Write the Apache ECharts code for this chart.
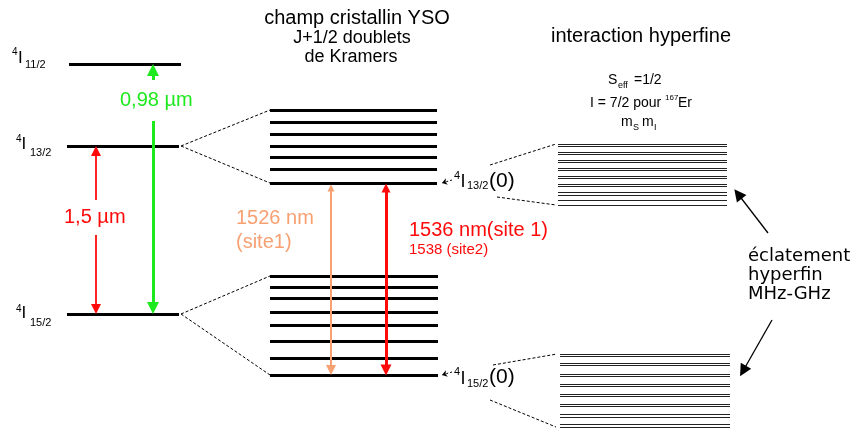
<!DOCTYPE html>
<html><head><meta charset="utf-8">
<script src="https://cdn.jsdelivr.net/npm/echarts@6/dist/echarts.min.js"></script>
<style>html,body{margin:0;padding:0;background:#fff}#c{width:856px;height:435px}</style>
</head><body><div id="c"></div>
<script>
// ---- data (vertical positions on the schematic energy scale, top = high energy) ----
const multipletJ = ['11/2', '13/2', '15/2'];
const multipletLevels = [64, 146, 314];
const starkUpper = [110, 122, 134, 146, 157, 169, 183];          // 4I13/2 Kramers doublets
const starkLower = [276, 287, 298, 312, 325, 341, 358, 375];     // 4I15/2 Kramers doublets
const hyperfineUpper = [144, 146, 152, 154, 160, 162, 168, 170, 176, 178, 184, 186, 192, 195, 200, 205];
const hyperfineLower = [354, 356, 363, 365, 374, 376, 384, 386, 394, 396, 404, 406, 414, 417, 424, 427];
const transitionLabels = ['0,98 µm', '1,5 µm', '1526 nm', '(site1)', '1536 nm(site 1)', '1538 (site2)'];

const SANS = '"Liberation Sans", Arial, sans-serif';
const DJV = '"DejaVu Sans", sans-serif';

function hseg(x1, x2, y) { return { coords: [[x1, y], [x2, y]] }; }
function seg(a, b) { return { coords: [a, b] }; }
function linesSeries(data, color, width, extra) {
  return Object.assign({
    type: 'lines', coordinateSystem: 'cartesian2d', polyline: false, silent: true,
    symbol: ['none', 'none'],
    lineStyle: { color: color, width: width, opacity: 1, type: 'solid' },
    data: data
  }, extra || {});
}
function arrowSeries(data, color, width, size, both) {
  return linesSeries(data, color, width, {
    symbol: both ? ['triangle', 'triangle'] : ['none', 'triangle'],
    symbolSize: size,
    itemStyle: { color: color }
  });
}

const series = [];
// left multiplets
series.push(linesSeries([
  hseg(69, 181, multipletLevels[0]),
  hseg(67, 179, multipletLevels[1]),
  hseg(67, 179, multipletLevels[2])
], '#000', 3));
// Stark levels
series.push(linesSeries(starkUpper.map(y => hseg(270, 437, y)).concat(starkLower.map(y => hseg(270, 438, y))), '#000', 3));
// hyperfine levels
series.push(linesSeries(hyperfineUpper.map(y => hseg(558, 727, y)).concat(hyperfineLower.map(y => hseg(560, 730, y))), '#222', 1.2));
// dashed connectors
series.push(linesSeries([
  seg([181, multipletLevels[1]], [270, starkUpper[0]]),
  seg([181, multipletLevels[1]], [270, starkUpper[starkUpper.length - 1]]),
  seg([181, multipletLevels[2]], [270, starkLower[0]]),
  seg([181, multipletLevels[2]], [270, starkLower[starkLower.length - 1]]),
  seg([490, 165], [556, hyperfineUpper[0]]),
  seg([497, 197], [556, hyperfineUpper[hyperfineUpper.length - 1]]),
  seg([493, 365], [557, hyperfineLower[0]]),
  seg([490, 400], [556, hyperfineLower[hyperfineLower.length - 1]])
], '#000', 1, { lineStyle: { color: '#000', width: 1, type: [3, 2], opacity: 1 } }));
// small dashed pointers to the lowest Stark level of each multiplet
series.push(linesSeries([
  seg([452, starkUpper[starkUpper.length - 1] - 3], [442, starkUpper[starkUpper.length - 1]]),
  seg([452, starkLower[starkLower.length - 1] - 3], [442, starkLower[starkLower.length - 1]])
], '#000', 1, { lineStyle: { color: '#000', width: 1, type: [2, 2], opacity: 1 }, symbol: ['none', 'arrow'], symbolSize: 5, itemStyle: { color: '#000' } }));

// transition arrows (tip at level; symbol centred at endpoint so inset by half its height)
const GREEN = '#1ee81e', RED = '#ff0a0a', SALMON = '#f7a072';
series.push(arrowSeries([
  seg([153, 80], [153, multipletLevels[0] + 6]),
  seg([153, 121], [153, multipletLevels[2] - 6])
], GREEN, 3, [9, 12]));
series.push(arrowSeries([
  seg([96, 200], [96, multipletLevels[1] + 5]),
  seg([96, 235], [96, multipletLevels[2] - 5])
], RED, 1.8, [7, 10]));
series.push(arrowSeries([
  seg([331, starkUpper[starkUpper.length - 1] + 5], [331, starkLower[starkLower.length - 1] - 5])
], SALMON, 2, [7, 10], true));
series.push(arrowSeries([
  seg([386, starkUpper[starkUpper.length - 1] + 5], [386, starkLower[starkLower.length - 1] - 5])
], RED, 3, [9, 11], true));
// black arrows for hyperfine splitting annotation
series.push(arrowSeries([
  seg([768, 233], [738, 194]),
  seg([772, 320], [743, 371])
], '#000', 1.3, [8, 12]));

function T(text, x, y, size, opts) {
  opts = opts || {};
  return {
    type: 'text', x: x, y: y, silent: true, z: 100,
    style: {
      text: text, fill: opts.color || '#000',
      font: (size) + 'px ' + (opts.family || SANS),
      align: opts.align || 'left', verticalAlign: 'middle'
    }
  };
}
const g = [];
// left term labels
g.push(T('4', 12, 52, 10), T('I', 18, 58, 17), T(multipletJ[0], 25, 65, 11));
g.push(T('4', 16, 139, 10), T('I', 21.5, 144, 17), T(multipletJ[1], 30, 153, 11));
g.push(T('4', 16, 309, 10), T('I', 21.5, 313, 17), T(multipletJ[2], 30, 323, 11));
// (0) labels
g.push(T('4', 454, 176, 11), T('I', 460.5, 181.7, 18), T('13/2', 467, 186, 11), T('(0)', 489, 181, 21));
g.push(T('4', 454, 372, 11), T('I', 460.5, 378.7, 18), T('15/2', 467, 384, 11), T('(0)', 489, 377, 21));
// titles
g.push(T('champ cristallin YSO', 357, 18, 20, { align: 'center' }));
g.push(T('J+1/2 doublets', 352, 38, 18, { align: 'center' }));
g.push(T('de Kramers', 351, 57, 18, { align: 'center' }));
g.push(T('interaction hyperfine', 641, 36, 20, { align: 'center' }));
// hyperfine notes
g.push(T('S', 608, 80, 14), T('eff', 618, 86, 9), T('=1/2', 634, 80, 14));
g.push(T('I = 7/2 pour ', 590, 103, 14), T('167', 665, 98, 8), T('Er', 678, 103, 14));
g.push(T('m', 621, 122, 14), T('S', 633, 128, 9), T('m', 642, 122, 14), T('I', 654, 128, 9));
// transition labels
g.push(T(transitionLabels[0], 120, 100, 20, { color: GREEN }));
g.push(T(transitionLabels[1], 64, 217, 20, { color: RED }));
g.push(T(transitionLabels[2], 236, 218, 20, { color: SALMON }));
g.push(T(transitionLabels[3], 236, 242, 20, { color: SALMON }));
g.push(T(transitionLabels[4], 409, 230, 20, { color: RED }));
g.push(T(transitionLabels[5], 409, 250, 15, { color: RED }));
// splitting annotation
g.push(T('éclatement', 748, 256.8, 18, { family: DJV }));
g.push(T('hyperfin', 748, 275.8, 18, { family: DJV }));
g.push(T('MHz-GHz', 748, 294.8, 18, { family: DJV }));

const chart = echarts.init(document.getElementById('c'), null, { renderer: 'canvas' });
chart.setOption({
  animation: false,
  backgroundColor: '#fff',
  grid: { left: 0, right: 0, top: 0, bottom: 0 },
  xAxis: { type: 'value', min: 0, max: 856, show: false },
  yAxis: { type: 'value', min: 0, max: 435, inverse: true, show: false },
  series: series,
  graphic: g
});
</script></body></html>
